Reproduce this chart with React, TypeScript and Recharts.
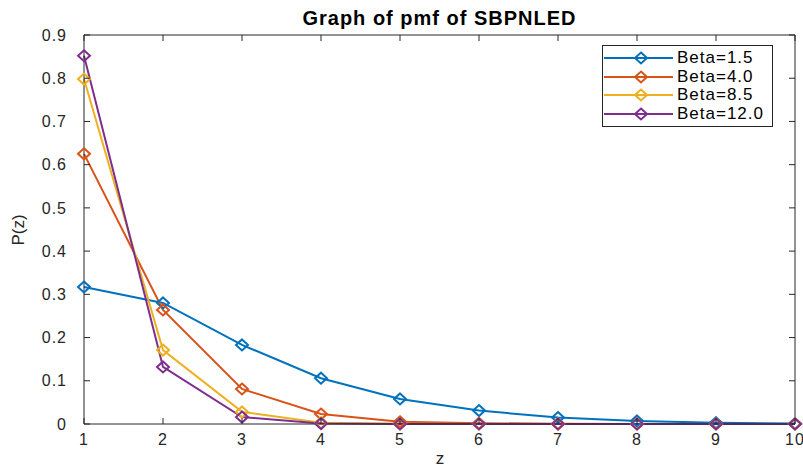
import React from 'react';
import { Line, LineChart, XAxis, YAxis } from 'recharts';

// pmf values, one array per beta
const zValues = [1, 2, 3, 4, 5, 6, 7, 8, 9, 10];
const beta15 = [0.317, 0.28, 0.183, 0.106, 0.058, 0.031, 0.015, 0.007, 0.003, 0.001];
const beta40 = [0.625, 0.264, 0.081, 0.023, 0.005, 0.002, 0.0005, 0.0001, 0, 0];
const beta85 = [0.798, 0.171, 0.028, 0.003, 0.0003, 0, 0, 0, 0, 0];
const beta120 = [0.852, 0.132, 0.016, 0.001, 0.0001, 0, 0, 0, 0, 0];

const xTicks = [1, 2, 3, 4, 5, 6, 7, 8, 9, 10];
const yTicks = [0, 0.1, 0.2, 0.3, 0.4, 0.5, 0.6, 0.7, 0.8, 0.9];

const SERIES = [
  { key: 'Beta=1.5', values: beta15, color: '#0072BD' },
  { key: 'Beta=4.0', values: beta40, color: '#D95319' },
  { key: 'Beta=8.5', values: beta85, color: '#EDB120' },
  { key: 'Beta=12.0', values: beta120, color: '#7E2F8E' },
];

const FONT = '"Liberation Sans", Arial, Helvetica, sans-serif';
const AXIS = '#262626';
const TICK_LEN = 6;

const rows = zValues.map((z, i) => {
  const row: Record<string, number> = { z };
  SERIES.forEach((s) => {
    row[s.key] = s.values[i];
  });
  return row;
});

function Diamond(props: any) {
  const { cx, cy, stroke } = props;
  if (cx == null || cy == null) return null;
  return (
    <path
      d={`M${cx},${cy - 5.5} L${cx + 6},${cy} L${cx},${cy + 5.5} L${cx - 6},${cy} Z`}
      fill="none"
      stroke={stroke}
      strokeWidth={2}
    />
  );
}

// MATLAB-style ticks: short marks pointing into the plot box, label outside.
// tickSize is 0 on every axis, so the label anchor sits `margin` px off the axis line.
function makeTick(side: 'bottom' | 'left' | 'top' | 'right', margin: number, label: boolean) {
  return (props: any) => {
    const { x, y, payload } = props;
    let line;
    if (side === 'bottom') line = <line x1={x} x2={x} y1={y - margin} y2={y - margin - TICK_LEN} stroke={AXIS} />;
    else if (side === 'top') line = <line x1={x} x2={x} y1={y + margin} y2={y + margin + TICK_LEN} stroke={AXIS} />;
    else if (side === 'left') line = <line x1={x + margin} x2={x + margin + TICK_LEN} y1={y} y2={y} stroke={AXIS} />;
    else line = <line x1={x - margin} x2={x - margin - TICK_LEN} y1={y} y2={y} stroke={AXIS} />;
    return (
      <g>
        {line}
        {label && (
          <text
            x={x}
            y={y}
            dy={side === 'bottom' ? '0.71em' : '0.355em'}
            textAnchor={side === 'left' ? 'end' : 'middle'}
            fill={AXIS}
            fontSize={16}
            fontFamily={FONT}
            letterSpacing={1}
          >
            {payload.value}
          </text>
        )}
      </g>
    );
  };
}

function LegendBox() {
  return (
    <div
      style={{
        position: 'absolute',
        left: 602,
        top: 45,
        border: `1px solid ${AXIS}`,
        background: '#fff',
        padding: '3px 8px 3px 0',
        fontFamily: FONT,
        fontSize: 17,
        letterSpacing: 1,
        color: '#000',
      }}
    >
      {SERIES.map((s) => (
        <div key={s.key} style={{ display: 'flex', alignItems: 'center', height: 18.5 }}>
          <svg width={74} height={18} style={{ flex: 'none' }}>
            <line x1={1} y1={9} x2={70} y2={9} stroke={s.color} strokeWidth={2} />
            <path d="M38,3.5 L44,9 L38,14.5 L32,9 Z" fill="none" stroke={s.color} strokeWidth={2} />
          </svg>
          <span style={{ lineHeight: '18px' }}>{s.key}</span>
        </div>
      ))}
    </div>
  );
}

export default function App() {
  return (
    <div style={{ position: 'absolute', left: 0, top: 0, width: 803, height: 470, background: '#fff' }}>
      <LineChart width={803} height={470} data={rows} margin={{ top: 0, right: 0, bottom: 0, left: 0 }}>
        <XAxis
          dataKey="z"
          type="number"
          domain={[1, 10]}
          ticks={xTicks}
          interval={0}
          height={46}
          tickSize={0}
          tickMargin={10}
          tickLine={false}
          tick={makeTick('bottom', 10, true)}
          stroke={AXIS}
        />
        <XAxis
          xAxisId="top"
          dataKey="z"
          orientation="top"
          type="number"
          domain={[1, 10]}
          ticks={xTicks}
          interval={0}
          height={35}
          tickSize={0}
          tickMargin={0}
          tickLine={false}
          tick={makeTick('top', 0, false)}
          stroke={AXIS}
        />
        <YAxis
          type="number"
          domain={[0, 0.9]}
          ticks={yTicks}
          interval={0}
          width={84}
          tickSize={0}
          tickMargin={17}
          tickLine={false}
          tick={makeTick('left', 17, true)}
          stroke={AXIS}
        />
        <YAxis
          yAxisId="right"
          orientation="right"
          type="number"
          domain={[0, 0.9]}
          ticks={yTicks}
          interval={0}
          width={8}
          tickSize={0}
          tickMargin={0}
          tickLine={false}
          tick={makeTick('right', 0, false)}
          stroke={AXIS}
        />
        {/* invisible series so the top and right box axes are drawn */}
        <Line
          xAxisId="top"
          yAxisId="right"
          dataKey="Beta=1.5"
          stroke="none"
          dot={false}
          activeDot={false}
          legendType="none"
          isAnimationActive={false}
        />
        {SERIES.map((s) => (
          <Line
            key={s.key}
            dataKey={s.key}
            name={s.key}
            stroke={s.color}
            strokeWidth={2}
            type="linear"
            dot={<Diamond />}
            activeDot={false}
            isAnimationActive={false}
          />
        ))}
      </LineChart>
      <LegendBox />
      <div
        style={{
          position: 'absolute',
          left: 84,
          width: 711,
          top: 8,
          textAlign: 'center',
          fontFamily: FONT,
          fontWeight: 'bold',
          fontSize: 20,
          lineHeight: '20px',
          letterSpacing: 1,
          color: '#000',
        }}
      >
        Graph of pmf of SBPNLED
      </div>
      <div
        style={{
          position: 'absolute',
          left: 19,
          top: 230,
          transform: 'translate(-50%, -50%) rotate(-90deg)',
          fontFamily: FONT,
          fontSize: 17,
          color: AXIS,
          whiteSpace: 'nowrap',
        }}
      >
        P(z)
      </div>
      <div
        style={{
          position: 'absolute',
          left: 440,
          top: 459,
          transform: 'translate(-50%, -50%)',
          fontFamily: FONT,
          fontSize: 17,
          color: AXIS,
        }}
      >
        z
      </div>
    </div>
  );
}
